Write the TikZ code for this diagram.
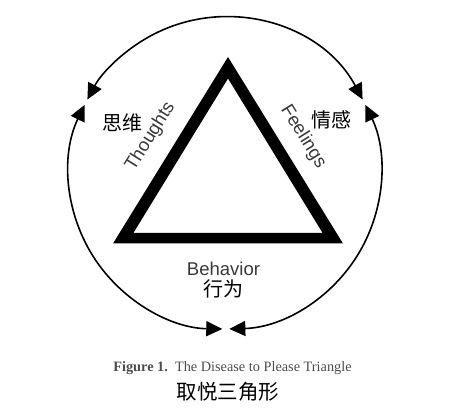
\documentclass[tikz,border=0pt]{standalone}
\usepackage{fontspec}
\setmainfont{Liberation Serif}
\newfontfamily\labelfont{Liberation Sans}
\newfontfamily\cjk{Noto Sans CJK SC}
\usetikzlibrary{arrows.meta}
\begin{document}
\begin{tikzpicture}[x=1pt,y=1pt,
  cyc/.style={line width=1.6pt, {Triangle[length=16pt,width=15pt]}-{Triangle[length=16pt,width=15pt]}},
  en/.style={font=\labelfont\fontsize{18.5}{20}\selectfont, text=black!78, inner sep=0pt},
  zh/.style={font=\cjk\fontsize{20}{22}\selectfont, inner sep=0pt}]
\useasboundingbox (0,0) rectangle (450,412);
\coordinate (O) at (225,239);
\def\R{156}
% thick triangle
\fill[black, even odd rule] (228,355) -- (113,168.5) -- (343,168.5) -- cycle
  (228,333.5) -- (133.5,179.2) -- (322.5,179.2) -- cycle;
% cycle arcs
\draw[cyc] ([shift={(28.1:\R)}]O) arc[start angle=28.1, end angle=151.9, radius=\R];
\draw[cyc] ([shift={(154.1:\R)}]O) arc[start angle=154.1, end angle=269, radius=\R];
\draw[cyc] ([shift={(271.6:\R)}]O) arc[start angle=271.6, end angle=385.9, radius=\R];
% labels
\node[zh] (sw) at (122,289.5) {思维};
\node[zh] (qg) at (331.5,292) {情感};
\node[en, rotate=58] (th) at (150.5,275.3) {Thoughts};
\node[en, rotate=-58] (fe) at (303.3,275.3) {Feelings};
\node[en] (be) at (223.5,143.5) {Behavior};
\node[zh] (xw) at (223,123) {行为};
% caption
\node[font=\fontsize{14.3}{16}\selectfont, text=black!70, inner sep=0pt] (cap) at (232.5,44)
  {\textbf{Figure 1.}\hspace{0.5em}The Disease to Please Triangle};
\node[zh, font=\cjk\fontsize{20.5}{22}\selectfont] (title) at (228,20) {取悦三角形};
\end{tikzpicture}
\end{document}
